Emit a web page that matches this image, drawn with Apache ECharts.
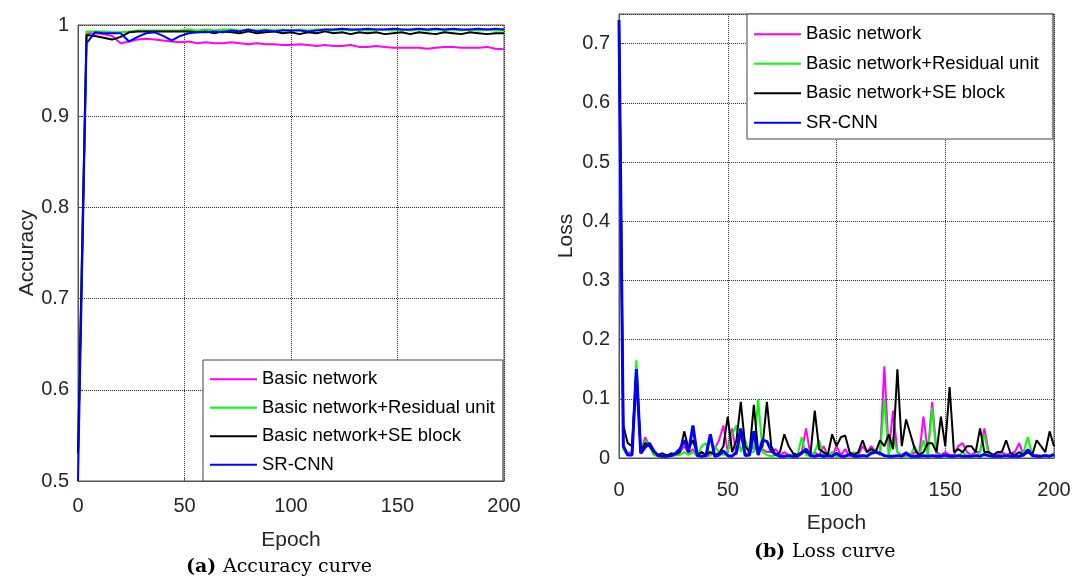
<!DOCTYPE html>
<html>
<head>
<meta charset="utf-8">
<script src="https://cdn.jsdelivr.net/npm/echarts@6/dist/echarts.min.js"></script>
<style>
  html, body { margin: 0; padding: 0; background: #fff; }
  #main { width: 1075px; height: 581px; }
</style>
</head>
<body>
<div id="main"></div>
<script>
// epochs (accuracy sampled every 4, loss every 2)
var accEpoch = [0,4,8,12,16,20,24,28,32,36,40,44,48,52,56,60,64,68,72,76,80,84,88,92,96,100,
  104,108,112,116,120,124,128,132,136,140,144,148,152,156,160,164,168,172,176,180,184,188,192,196,200];
var lossEpoch = [0,2,4,6,8,10,12,14,16,18,20,22,24,26,28,30,32,34,36,38,40,42,44,46,48,50,
  52,54,56,58,60,62,64,66,68,70,72,74,76,78,80,82,84,86,88,90,92,94,96,98,100,
  102,104,106,108,110,112,114,116,118,120,122,124,126,128,130,132,134,136,138,140,142,144,146,148,150,
  152,154,156,158,160,162,164,166,168,170,172,174,176,178,180,182,184,186,188,190,192,194,196,198,200];

var names = ['Basic network', 'Basic network+Residual unit', 'Basic network+SE block', 'SR-CNN'];
var colors = ['#ff00ff', '#00ff00', '#000000', '#0000ff'];

var accBasic = [0.53,0.991,0.991,0.990,0.988,0.980,0.982,0.984,0.985,0.984,0.983,0.982,0.981,0.982,0.980,0.981,0.980,0.980,0.981,0.980,
  0.979,0.980,0.979,0.979,0.978,0.978,0.979,0.978,0.977,0.978,0.977,0.977,0.978,0.976,0.976,0.977,0.976,0.975,0.975,0.975,
  0.975,0.974,0.975,0.976,0.976,0.975,0.975,0.975,0.976,0.974,0.9735];
var accRes = [0.53,0.993,0.993,0.993,0.992,0.992,0.993,0.994,0.994,0.994,0.994,0.994,0.994,0.995,0.994,0.995,0.994,0.995,0.995,0.994,
  0.995,0.994,0.995,0.994,0.995,0.994,0.995,0.994,0.995,0.995,0.994,0.995,0.994,0.995,0.994,0.995,0.995,0.994,0.995,0.994,
  0.995,0.994,0.995,0.994,0.995,0.994,0.995,0.994,0.995,0.994,0.994];
var accSE = [0.53,0.989,0.988,0.986,0.984,0.987,0.992,0.993,0.993,0.993,0.993,0.993,0.993,0.993,0.992,0.993,0.991,0.993,0.992,0.991,
  0.993,0.991,0.992,0.993,0.991,0.992,0.990,0.992,0.991,0.993,0.991,0.992,0.990,0.992,0.991,0.992,0.990,0.991,0.992,0.990,
  0.992,0.991,0.990,0.992,0.991,0.990,0.992,0.991,0.990,0.991,0.991];
var accSR = [0.50,0.980,0.992,0.991,0.991,0.991,0.982,0.987,0.991,0.992,0.988,0.983,0.988,0.991,0.992,0.992,0.993,0.992,0.994,0.993,
  0.995,0.993,0.994,0.993,0.994,0.994,0.994,0.993,0.994,0.995,0.995,0.996,0.995,0.995,0.996,0.995,0.995,0.996,0.995,0.995,
  0.996,0.995,0.996,0.995,0.996,0.995,0.995,0.996,0.995,0.996,0.995];

var lossBasic = [0.73,0.02,0.008,0.01,0.15,0.01,0.035,0.02,0.01,0.003,0.003,0.005,0.003,0.005,0.01,0.02,0.008,0.015,0.003,0.01,
  0.003,0.005,0.015,0.03,0.055,0.01,0.05,0.005,0.04,0.005,0.01,0.02,0.01,0.015,0.01,0.01,0.015,0.005,0.01,0.005,
  0.003,0.005,0.01,0.05,0.005,0.01,0.003,0.02,0.005,0.003,0.02,0.005,0.015,0.003,0.008,0.005,0.02,0.01,0.02,0.01,
  0.005,0.155,0.01,0.08,0.01,0.005,0.01,0.005,0.01,0.005,0.07,0.01,0.095,0.01,0.005,0.01,0.005,0.005,0.02,0.025,
  0.01,0.005,0.01,0.01,0.05,0.01,0.005,0.005,0.01,0.005,0.008,0.01,0.025,0.005,0.01,0.005,0.005,0.003,0.005,0.003,0.005];
var lossRes = [0.73,0.015,0.005,0.008,0.165,0.008,0.03,0.02,0.005,0.003,0.003,0.003,0.003,0.005,0.005,0.01,0.005,0.01,0.003,0.02,
  0.025,0.003,0.02,0.01,0.005,0.01,0.04,0.055,0.01,0.03,0.01,0.01,0.1,0.01,0.005,0.003,0.005,0.003,0.003,0.003,
  0.005,0.003,0.035,0.005,0.003,0.01,0.03,0.005,0.003,0.01,0.003,0.003,0.003,0.005,0.01,0.003,0.005,0.003,0.01,0.015,
  0.005,0.1,0.005,0.035,0.01,0.003,0.003,0.005,0.02,0.003,0.03,0.005,0.085,0.003,0.005,0.003,0.003,0.003,0.003,0.01,
  0.003,0.005,0.003,0.01,0.04,0.003,0.003,0.003,0.005,0.003,0.003,0.003,0.003,0.01,0.035,0.005,0.003,0.003,0.003,0.003,0.003];
var lossSE = [0.73,0.055,0.025,0.02,0.15,0.01,0.025,0.02,0.01,0.005,0.008,0.004,0.008,0.006,0.01,0.045,0.015,0.03,0.005,0.01,
  0.005,0.01,0.005,0.008,0.02,0.07,0.01,0.03,0.095,0.02,0.01,0.09,0.01,0.02,0.095,0.02,0.005,0.01,0.04,0.02,
  0.008,0.005,0.01,0.01,0.005,0.08,0.015,0.01,0.005,0.04,0.02,0.035,0.038,0.01,0.005,0.01,0.03,0.01,0.015,0.01,
  0.03,0.02,0.04,0.015,0.15,0.02,0.065,0.04,0.015,0.005,0.01,0.025,0.025,0.01,0.07,0.02,0.12,0.01,0.015,0.01,
  0.02,0.02,0.01,0.05,0.01,0.01,0.005,0.01,0.01,0.03,0.008,0.005,0.01,0.005,0.01,0.005,0.03,0.02,0.01,0.045,0.02];
var lossSR = [0.74,0.02,0.005,0.005,0.15,0.008,0.018,0.025,0.012,0.004,0.003,0.003,0.004,0.008,0.015,0.03,0.01,0.055,0.004,0.003,
  0.004,0.04,0.003,0.005,0.012,0.004,0.003,0.01,0.05,0.004,0.005,0.045,0.005,0.03,0.028,0.012,0.006,0.003,0.003,0.004,
  0.003,0.003,0.008,0.015,0.004,0.003,0.005,0.003,0.004,0.003,0.008,0.003,0.003,0.006,0.003,0.003,0.004,0.003,0.008,0.01,
  0.008,0.004,0.003,0.003,0.004,0.003,0.008,0.003,0.003,0.003,0.004,0.003,0.004,0.003,0.003,0.005,0.003,0.003,0.004,0.003,
  0.003,0.003,0.004,0.003,0.006,0.004,0.003,0.003,0.003,0.004,0.003,0.003,0.003,0.005,0.014,0.004,0.003,0.003,0.004,0.003,0.006];

function pairs(xs, ys){
    var out = [];
    for (var i = 0; i < ys.length; i++) out.push([xs[i], ys[i]]);
    return out;
}

var font = 'Liberation Sans, Arial, sans-serif';
var serif = 'DejaVu Serif, serif';
var gridLine = { show: true, lineStyle: { type: 'dotted', color: '#333', width: 1 } };

function xAx(idx, margin, gap){
    return {
        type: 'value', gridIndex: idx, min: 0, max: 200, interval: 50,
        name: 'Epoch', nameLocation: 'middle', nameGap: gap,
        nameTextStyle: { fontFamily: font, fontSize: 21, color: '#262626' },
        axisLine: { show: true, lineStyle: { color: '#555' } },
        axisTick: { show: true, inside: true, length: 4, lineStyle: { color: '#555' } },
        axisLabel: { fontFamily: font, fontSize: 20, color: '#262626', margin: margin },
        splitLine: gridLine
    };
}

var accSeries = [accBasic, accRes, accSE, accSR];
var lossSeries = [lossBasic, lossRes, lossSE, lossSR];
var series = [];
for (var k = 0; k < 4; k++){
    series.push({
        name: names[k], type: 'line', xAxisIndex: 0, yAxisIndex: 0,
        data: pairs(accEpoch, accSeries[k]), symbol: 'none',
        lineStyle: { color: colors[k], width: 2 }, itemStyle: { color: colors[k] }, z: 3 + k
    });
}
for (var k = 0; k < 4; k++){
    series.push({
        name: names[k], type: 'line', xAxisIndex: 1, yAxisIndex: 1,
        data: pairs(lossEpoch, lossSeries[k]), symbol: 'none',
        lineStyle: { color: colors[k], width: k == 3 ? 3 : 2 }, itemStyle: { color: colors[k] }, z: 3 + k
    });
}

var legendBase = {
    orient: 'vertical', backgroundColor: '#fff', borderColor: '#444', borderWidth: 1,
    borderRadius: 0, icon: 'rect', itemWidth: 47, itemHeight: 2, itemGap: 8, padding: [9, 8, 6, 7],
    textStyle: { fontFamily: font, fontSize: 18.5, color: '#000', lineHeight: 20.5 },
    selectedMode: false, data: names, z: 10
};

var chart = echarts.init(document.getElementById('main'));
chart.setOption({
    animation: false,
    backgroundColor: '#fff',
    grid: [
        { left: 78, top: 25, width: 426, height: 456, show: true, borderColor: '#555', borderWidth: 1 },
        { left: 619, top: 14, width: 435, height: 444, show: true, borderColor: '#555', borderWidth: 1 }
    ],
    legend: [
        Object.assign({}, legendBase, { left: 203, top: 360 }),
        Object.assign({}, legendBase, { left: 747, top: 14, itemGap: 9, padding: [10, 14, 6, 7] })
    ],
    xAxis: [ xAx(0, 15, 49), xAx(1, 22, 55) ],
    yAxis: [
        {
            type: 'value', gridIndex: 0, min: 0.5, max: 1, interval: 0.1,
            name: 'Accuracy', nameLocation: 'middle', nameGap: 40,
            nameTextStyle: { fontFamily: font, fontSize: 21, color: '#262626' },
            axisLine: { show: true, lineStyle: { color: '#555' } },
            axisTick: { show: true, inside: true, length: 4, lineStyle: { color: '#555' } },
            axisLabel: { fontFamily: font, fontSize: 20, color: '#262626', margin: 9 },
            splitLine: gridLine
        },
        {
            type: 'value', gridIndex: 1, min: 0, max: 0.75, interval: 0.1,
            name: 'Loss', nameLocation: 'middle', nameGap: 42,
            nameTextStyle: { fontFamily: font, fontSize: 21, color: '#262626' },
            axisLine: { show: true, lineStyle: { color: '#555' } },
            axisTick: { show: true, inside: true, length: 4, lineStyle: { color: '#555' } },
            axisLabel: {
                fontFamily: font, fontSize: 20, color: '#262626', margin: 9,
                formatter: function(v){ return Math.abs(v * 10 - Math.round(v * 10)) < 1e-6 ? String(Math.round(v * 10) / 10) : ''; }
            },
            splitLine: gridLine
        }
    ],
    graphic: [
        {
            type: 'text', left: 186, top: 558,
            style: {
                text: '{b|(a)}  {n|Accuracy curve}',
                rich: {
                    b: { fontFamily: serif, fontWeight: 'bold', fontSize: 19, fill: '#000' },
                    n: { fontFamily: serif, fontSize: 19, fill: '#000' }
                }
            }
        },
        {
            type: 'text', left: 754, top: 543,
            style: {
                text: '{b|(b)}  {n|Loss curve}',
                rich: {
                    b: { fontFamily: serif, fontWeight: 'bold', fontSize: 19, fill: '#000' },
                    n: { fontFamily: serif, fontSize: 19, fill: '#000' }
                }
            }
        }
    ],
    series: series
});
</script>
</body>
</html>
